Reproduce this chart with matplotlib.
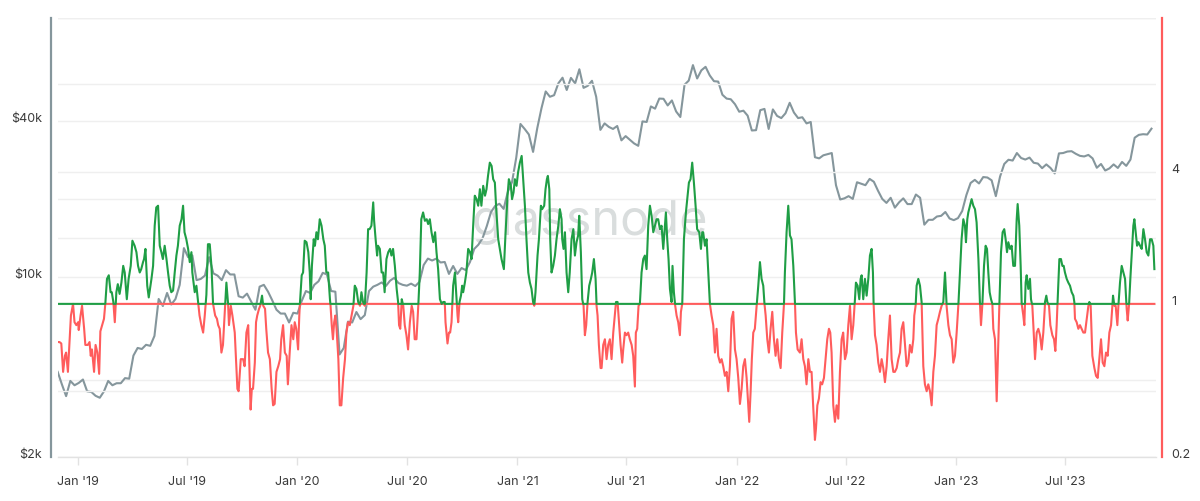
import numpy as np
import pandas as pd
import matplotlib
matplotlib.use("Agg")
import matplotlib.pyplot as plt
import matplotlib.dates as mdates
from matplotlib.ticker import FixedLocator, NullFormatter

plt.rcParams['font.family'] = ['Inter', 'DejaVu Sans']

# ---------------- data ----------------
start_date = "2018-11-28"

# weekly BTC price (USD), left log axis
price_2018 = [4280, 3830, 3450, 3950, 3800]
price_2019 = [3880, 4000, 3600, 3580, 3460, 3400, 3600, 3950, 3800, 3870, 3870, 4050, 4030,
              4950, 5300, 5250, 5450, 5400, 5900, 8200, 7700, 8650, 7800, 8200, 9300, 12900,
              11900, 12100, 9700, 9800, 10100, 11900, 10300, 10100, 9700, 10600, 10200, 10200,
              8400, 8300, 8600, 8000, 7450, 9150, 9300, 8750, 8100, 7450, 7200, 7200, 6650, 7250]
price_2020 = [7200, 8050, 8800, 8650, 9300, 9600, 10350, 10200, 8800, 8750, 5000, 5300, 6700,
              6650, 7300, 6850, 7100, 8800, 9150, 9300, 9500, 9200, 9650, 9900, 9450, 9300,
              9230, 9400, 9200, 9550, 11100, 11750, 11550, 11750, 11350, 11400, 10250, 11000,
              10250, 10800, 10600, 11400, 12800, 13300, 14100, 15700, 17800, 18800, 19150,
              18300, 21300, 23250, 28900]
price_2021 = [39000, 37300, 35500, 30400, 37600, 44900, 52100, 49700, 50400, 56000, 58900,
              52800, 58800, 56000, 63500, 53800, 54800, 57300, 49700, 37000, 39200, 38000,
              37300, 38300, 33700, 35000, 33900, 32800, 32100, 39900, 39700, 45600, 44700,
              48900, 48800, 46000, 48100, 43600, 41500, 55300, 57400, 65900, 58500, 62900,
              64900, 60100, 57100, 56900, 50600, 48900, 48600, 46500]
price_2022 = [43500, 43900, 42000, 36800, 36900, 44100, 44600, 37300, 44400, 41900, 41100,
              42900, 47100, 43200, 41100, 41400, 39200, 39700, 29000, 28700, 29500, 29800,
              30100, 22600, 19900, 20100, 20500, 20000, 23200, 22900, 22600, 23900, 23300,
              21500, 20000, 19300, 20200, 18500, 19400, 20100, 19100, 19100, 20800, 20200,
              15900, 16600, 16600, 17100, 17200, 17800, 16800, 16550]
price_2023 = [16850, 17950, 20700, 23050, 23700, 22950, 24300, 24200, 23600, 20500, 24400,
              27300, 28350, 28150, 30100, 28800, 28400, 28900, 27600, 27400, 26300, 27200,
              26350, 25100, 30000, 30100, 30500, 30600, 29900, 29350, 29200, 29600, 28700,
              26400, 27300, 25750, 26250, 27200, 26350, 27800, 26850, 28400, 34500, 35400,
              35600, 35500, 37400]

# oscillator (right log axis): day offset from start_date, value
osc_day = [0, 3, 6, 9, 12, 14, 17, 20, 22, 25.5, 28, 31, 34, 35, 38, 40.5, 44, 46, 50, 53, 55, 57,
           60.5, 63, 66, 69, 71, 74, 77, 79, 82, 85, 88, 90, 92.6, 95, 97.6, 100, 103, 106, 109,
           111.5, 115, 118, 121.5, 124.3, 128, 131, 133.7, 136.5, 139, 142, 143.7, 146, 149,
           151.5, 156, 158.7, 161.4, 164, 167, 169.8, 172.5, 175, 178, 181, 183.6, 186.4, 189,
           192, 194.7, 197.5, 200, 203, 206, 208.6, 211, 214, 217, 219.7, 222.5, 224, 228,
           230.8, 233.6, 236, 239, 242, 244.7, 247.4, 250, 253, 255.8, 258.5, 260, 262, 265,
           267, 269.6, 272.4, 275, 278, 280.7, 283.5, 285, 288, 290.7, 294.6, 299, 301, 304.6,
           308.5,
           311, 314, 317, 318.4, 321, 323, 325, 328, 330, 332, 335, 337, 340, 342, 345, 347, 350,
           353, 356, 358.4, 361, 364, 367, 370, 372, 375, 378, 381, 383, 386, 389, 392, 394.4,
           397, 400, 402, 403, 406, 408.3, 411, 414, 417, 419.4, 421, 423, 426, 428, 430.5, 433,
           436, 439, 442, 444.4, 447, 450, 453, 454, 456, 458, 460, 462, 464, 467, 469.3, 472,
           475, 478, 480.4, 483, 486, 489, 492, 494.3, 497, 500, 503, 505.4, 508, 511, 514,
           516.5, 519, 522, 525, 526.5, 529, 531.5, 533, 536, 539, 541.5, 544, 547, 550, 553,
           555.3, 558, 561, 564, 566.4, 568, 570, 572.5, 575, 577.5, 580.3, 583, 586, 589,
           591.4, 594, 597, 600, 602.5, 605, 608, 611, 614, 616.4,
           619.2, 622, 625, 628, 630.3, 633, 636, 639, 641.4, 644, 645.3, 648.6, 651, 653,
           655.3, 658, 661, 663, 665.3, 666.4, 668.6, 671, 673, 674.7, 677.5, 680, 683, 686,
           688.6, 691.3, 694, 697, 699.7, 702.5, 705, 708, 711, 713.5, 716, 719, 722, 724.6,
           727.4, 730, 733, 735.7, 738.5, 742.4, 745, 748.5, 750.7, 754, 756, 758.5, 760.7,
           763.5, 766, 769, 772, 774.6, 777.4, 780, 783, 785.7, 788.4, 791, 793, 795, 798.4,
           800.7, 804, 806, 809.5, 811.7, 814, 815.6, 818, 819.5, 821.7, 824.5, 827.3, 830, 833,
           835.6, 838.4, 839.5, 841.7, 844, 846.7, 849.5, 852, 855, 858, 860.6, 863.3, 866,
           867.8, 870.5, 872.8, 875, 877.2, 879.4, 881.7, 884.4, 887.2, 889.4, 892.2, 895,
           896.6, 898.3, 900.5, 903.3, 905, 907.7, 910.5, 913.3, 916, 918.8, 921.6, 924.4,
           929, 931.6, 934.3, 936.6, 939.3, 941, 943.8, 946.5, 949.3, 952, 955, 957.6, 960.4,
           962, 964.3, 966.5, 968.7, 971.5, 974.3, 977, 979.8, 982.6, 985.4, 988.2, 991, 993.7,
           996.5, 999.2, 1002, 1004.8, 1007.6, 1010.3, 1012, 1014.2, 1016.4, 1018.7, 1021.4,
           1023, 1025.3, 1027.5, 1029.8, 1032.5, 1035.3, 1037, 1039.2, 1042, 1045.3, 1047.5,
           1050.3, 1053, 1055.8, 1058.6, 1061.4, 1064, 1067.5, 1070.3, 1072.5, 1074, 1077,
           1079.7, 1082.5, 1085.2, 1088, 1090.8, 1093.6, 1096.3, 1099, 1102, 1104.7, 1107.4,
           1110.2, 1113, 1115.8, 1118.5, 1121.3, 1124, 1126.9, 1129.6, 1132.4, 1135.2, 1138,
           1140.7, 1143.5, 1146.3, 1149, 1150.7, 1153, 1155, 1157.4, 1160, 1163, 1165.7, 1168.5,
           1171.2, 1174, 1175.7, 1178, 1180.7, 1183.4, 1186.2, 1189, 1191.8, 1194.5, 1197.3,
           1200, 1202.9, 1205.6, 1208.4, 1210, 1212.8, 1215.6, 1218.4, 1221, 1224, 1226.7,
           1228.4, 1231.2,
           1235, 1237.8, 1240.6, 1243.3, 1246, 1249, 1251.7, 1254.4, 1257, 1260, 1261.7, 1264,
           1266.6, 1269.4, 1272, 1275, 1277.7, 1280.5, 1283.3, 1285.5, 1287.7, 1290.5, 1293.3,
           1296, 1298.8, 1301.6, 1304.4, 1307, 1310, 1312.7, 1315.5, 1318.3, 1321, 1323.8,
           1326.6, 1328.2, 1331, 1333.8, 1336, 1337.7, 1340.4, 1343.2, 1346, 1348.8, 1351.5,
           1354.3, 1356.5, 1357.6, 1359.9, 1362.6, 1365.4, 1368.2, 1371, 1373.7, 1376.5, 1379.3,
           1382, 1384.8, 1387.6, 1390.4, 1393, 1396, 1398.7, 1401.5, 1404.2, 1407, 1409.8,
           1412.6, 1415.3, 1418, 1421, 1423.7, 1425.3, 1427.5, 1429.2, 1432, 1434.8, 1437.5,
           1440.3, 1443, 1445.9, 1448.6, 1451.4, 1454.2, 1457, 1459.7, 1462.5, 1465.3, 1468,
           1470.8, 1473.6, 1476.4, 1479, 1482, 1484.7, 1487.5, 1490.2, 1493, 1495.8, 1498.6,
           1501.3, 1504, 1506.9, 1509.6, 1511.3, 1513.5, 1515.2, 1518, 1520.7, 1523.5, 1526.3,
           1529, 1532, 1534.6, 1536.3, 1538.5, 1541.3, 1544, 1546.3, 1548.5, 1550.7, 1553,
           1555.2, 1556.8, 1559.6, 1562.4, 1565.1, 1566.8, 1569.6, 1572.3, 1575, 1577.3, 1579.6,
           1581.8, 1584.6, 1587.3, 1590, 1592.9, 1595.7, 1597.3, 1600, 1602.3, 1604, 1606.7,
           1608.4, 1610.6, 1612.3, 1615, 1617.8, 1619.5, 1621.7, 1623.4, 1626.2, 1629, 1631.7,
           1634.5, 1637.3, 1640, 1642.8, 1645, 1646.7, 1649.5, 1651.7, 1655, 1657.8, 1660,
           1662.2, 1665, 1666.7, 1669.4, 1671.7, 1673.9, 1676, 1678.9, 1681.6, 1684.4, 1687.2,
           1690, 1691.6, 1692.7, 1695.5, 1698.3, 1701, 1703.8, 1706.6, 1709.4, 1712.2, 1715,
           1716.6, 1718.8, 1721.6, 1725, 1727.7, 1730.5, 1733.2, 1736, 1738.8, 1741.6, 1744.3,
           1747.1, 1749.9, 1752.7, 1754.9, 1756, 1758.2, 1760.4, 1763.2, 1764.9, 1767.6, 1770.4,
           1773.2, 1776, 1778.7, 1780.4, 1782.6, 1784.8, 1787, 1789.8, 1791.5, 1793.7, 1796,
           1798.2, 1801, 1803.7, 1806.5, 1809.2, 1812, 1814.8, 1817.6, 1820.3, 1823.1, 1824.8]
osc_val = [0.67, 0.67, 0.66, 0.49, 0.58, 0.60, 0.49, 0.69, 0.885, 1.0, 0.825, 0.80, 0.825, 0.76,
           0.885, 0.98, 0.77, 0.65, 0.65, 0.67, 0.58, 0.62, 0.49, 0.65, 0.60, 0.48, 0.75, 0.80,
           0.855, 0.98, 1.30, 1.35, 1.13, 1.13, 1.02, 0.825, 1.13, 1.23, 1.11, 1.25, 1.49, 1.39,
           1.05, 1.30, 1.49, 1.94, 1.84, 1.72, 1.49, 1.39, 1.44, 1.55, 1.60, 1.78, 1.21, 1.07,
           1.30, 1.49, 2.27, 2.75, 2.80, 1.84, 1.72, 1.60, 1.84, 1.60, 1.39, 1.21, 1.13, 1.15,
           1.39, 1.66, 1.84, 2.27, 2.43, 2.80, 2.12, 1.97, 1.78, 1.55, 1.72, 1.39, 1.13, 1.21,
           1.02, 0.885, 0.80, 0.74, 0.885, 1.10, 1.87, 1.87, 1.49, 1.0, 0.95, 0.885, 0.855, 0.80,
           0.77, 0.60, 0.65, 0.92, 1.25, 1.0, 0.80, 0.98, 0.885, 0.74, 0.41, 0.40, 0.56, 0.56,
           0.52, 0.74, 0.80, 0.58, 0.33, 0.41, 0.41, 0.54, 0.825, 0.885, 0.95, 0.98, 1.09, 0.98,
           0.95, 0.77, 0.60, 0.56, 0.41, 0.345, 0.35, 0.49, 0.52, 0.56, 0.69, 0.80, 0.60, 0.58,
           0.43, 0.60, 0.80, 0.69, 0.825, 0.77, 0.62, 0.885, 1.0, 1.35, 1.39, 1.94, 1.91, 1.72,
           1.39, 1.05, 1.49, 1.97, 1.84, 2.12, 1.97, 2.43, 2.27, 1.97, 1.84, 1.39, 1.39, 1.05,
           0.98, 0.80, 0.69, 0.825, 0.885, 0.77, 0.56, 0.345, 0.345, 0.46, 0.56, 0.74, 0.825,
           0.80, 0.885, 0.98, 1.21, 1.17, 1.02, 0.98, 1.13, 1.02, 0.98, 1.39, 2.19, 2.19, 2.27,
           2.90, 2.39, 1.97, 1.66, 1.84, 1.78, 1.39, 1.39, 1.13, 1.60, 1.72, 1.78, 1.66, 1.78,
           1.49, 1.17, 1.02, 0.80, 0.77, 1.05, 0.98, 0.80, 0.72, 0.62, 0.825, 0.98, 0.92, 0.69,
           0.69, 0.98, 1.39, 2.43, 2.61, 2.39, 2.43, 2.31,
           2.43, 2.12, 1.91, 2.12, 1.72, 1.44, 1.05, 1.0, 1.02, 1.02, 0.825, 0.66, 0.74, 0.74,
           0.825, 1.21, 1.39, 1.13, 0.885, 0.825, 1.02, 1.09, 1.21, 1.13, 1.25, 1.39, 1.78, 1.72,
           1.60, 2.27, 3.11, 3.0, 2.80, 3.33, 2.80, 3.45, 3.11, 3.33, 3.83, 4.40, 4.25, 3.70,
           3.57, 2.61, 1.97, 1.78, 1.60, 1.44, 2.05, 3.11, 3.70, 3.45, 3.0, 3.22, 3.70, 3.45,
           3.97, 4.40, 4.72, 3.70, 2.80, 1.97, 1.39, 1.25, 1.17, 1.02, 0.98, 1.13, 1.66, 1.97,
           2.80, 2.70, 2.80, 3.33, 3.70, 3.83, 3.33, 1.97, 1.39, 1.49, 1.66, 1.97, 2.27, 2.70,
           2.43, 1.97, 1.78, 2.12, 1.39, 1.13, 1.39, 1.97, 2.19, 1.66, 1.91, 2.05, 2.52, 1.72,
           1.05, 0.98, 0.72, 0.80, 1.02, 1.21, 1.30, 1.39, 1.60, 1.30, 0.98, 0.885, 0.65, 0.51,
           0.51, 0.65, 0.69, 0.56, 0.65, 0.69, 0.56, 0.74,
           1.02, 1.02, 0.80, 0.65, 0.54, 0.62, 0.74, 0.72, 0.74, 0.69, 0.65, 0.58, 0.42, 0.74,
           0.77, 0.98, 1.0, 1.39, 1.60, 1.66, 1.44, 2.27, 2.80, 2.52, 2.12, 2.27, 2.43, 2.43,
           2.19, 2.27, 1.78, 2.27, 2.61, 1.97, 1.60, 1.17, 1.02, 1.49, 1.13, 0.98, 0.885, 0.825,
           0.72, 0.92, 1.0, 1.97, 2.61, 3.0, 3.57, 3.70, 4.40, 3.57, 2.80, 2.19, 2.12, 1.78,
           2.12, 2.12, 1.84, 1.97, 1.39, 1.0, 0.885, 0.80, 0.60, 0.77, 0.58, 0.54, 0.56, 0.52,
           0.47, 0.49, 0.40, 0.52, 0.855, 0.92, 0.62, 0.56, 0.46, 0.35, 0.41, 0.52, 0.56, 0.46,
           0.345, 0.29, 0.40, 0.56, 0.74, 0.77, 0.98, 1.21, 1.55, 1.30, 1.21, 1.02, 0.885, 0.69,
           0.60, 0.77, 0.92, 0.69, 0.58, 0.69, 0.56, 0.51, 0.74, 0.98, 1.39, 2.12, 2.80, 2.05,
           1.97, 1.49, 1.02, 0.74, 0.62,
           0.60, 0.69, 0.56, 0.52, 0.43, 0.56, 0.49, 0.49, 0.345, 0.24, 0.27, 0.345, 0.37, 0.44,
           0.43, 0.46, 0.56, 0.69, 0.77, 0.74, 0.60, 0.345, 0.29, 0.345, 0.30, 0.49, 0.69, 0.74,
           0.56, 0.60, 0.80, 0.98, 0.69, 0.80, 1.05, 1.25, 1.21, 1.05, 1.30, 1.35, 1.05, 1.30,
           1.09, 1.30, 1.66, 1.78, 1.39, 1.0, 0.72, 0.65, 0.54, 0.49, 0.56, 0.51, 0.44, 0.52,
           0.69, 0.885, 0.56, 0.49, 0.49, 0.51, 0.56, 0.60, 0.77, 0.825, 0.65, 0.52, 0.54, 0.65,
           0.60, 0.69, 0.885, 0.98, 1.21, 1.30, 1.21, 1.02, 0.52, 0.43, 0.40, 0.43, 0.40, 0.345,
           0.49, 0.58, 0.80, 0.855, 0.92, 0.98, 1.02, 1.39, 0.98, 0.80, 0.72, 0.69, 0.54, 0.58,
           0.74, 0.98, 1.39, 1.97, 2.43, 2.27, 1.91, 2.43, 2.61, 2.80, 3.0, 2.80, 2.70, 2.35,
           1.60, 1.0, 0.80, 0.98, 1.49, 1.84, 1.78, 1.39, 1.13, 1.05, 1.0, 0.77, 0.69, 0.36,
           0.65, 0.98, 1.72, 2.12, 2.19, 1.97, 1.72, 1.91, 1.78, 1.84, 1.49, 1.49, 2.43, 2.85,
           2.27, 1.49, 1.0, 0.885, 0.80, 1.25, 1.35, 1.17, 1.30, 1.05, 0.98, 0.80, 0.56, 0.74,
           0.77, 0.72, 0.62, 0.74, 1.02, 1.09, 1.02, 0.98, 0.80, 0.72, 0.69, 0.61, 0.80, 1.25,
           1.60, 1.60, 1.49, 1.49, 1.39, 1.30, 1.25, 1.21, 1.13, 1.09, 1.02, 0.855, 0.825, 0.77,
           0.80, 0.77, 0.74, 0.74, 0.855, 0.98, 1.02, 0.98, 0.58, 0.51, 0.47, 0.46, 0.56, 0.69,
           0.54, 0.52, 0.60, 0.58, 0.74, 0.80, 0.98, 1.09, 0.98, 0.98, 0.80, 0.98, 1.25, 1.49,
           1.39, 1.30, 0.95, 0.84, 0.98, 1.30, 1.66, 2.27, 2.43, 2.12, 1.84, 1.91, 1.84, 1.78,
           2.19, 1.97, 1.72, 1.66, 1.97, 1.97, 1.84, 1.44]

left_ticks = [2000, 10000, 40000]
left_tick_labels = ["$2k", "$10k", "$40k"]
left_minor = [4000, 20000, 100000]
right_ticks = [0.2, 1, 4]
right_tick_labels = ["0.2", "1", "4"]
right_minor = [0.4, 2, 10, 20]

# ---------------- build ----------------
price = price_2018 + price_2019 + price_2020 + price_2021 + price_2022 + price_2023
t0 = pd.Timestamp(start_date)
price_dates = pd.date_range(t0, periods=len(price), freq="7D")

n = min(len(osc_day), len(osc_val))
d = np.array(osc_day[:n], dtype=float)
v = np.array(osc_val[:n], dtype=float)

# insert exact crossings of 1 so green/red split cleanly
xs, vs = [d[0]], [v[0]]
for i in range(1, n):
    a, b = v[i - 1], v[i]
    if (a - 1) * (b - 1) < 0:
        la, lb = np.log(a), np.log(b)
        t = -la / (lb - la)
        xs.append(d[i - 1] + t * (d[i] - d[i - 1]))
        vs.append(1.0)
    xs.append(d[i])
    vs.append(b)
xs = np.array(xs)
vs = np.array(vs)
osc_dates = t0 + pd.to_timedelta(xs, unit="D")
green = np.maximum(vs, 1.0)
red = np.minimum(vs, 1.0)

GRAY = "#85969c"
GREEN = "#1f9e45"
RED = "#ff5c5c"
TXT = "#3a3a3a"
GRID = "#efefef"

fig = plt.figure(figsize=(12, 5.02), dpi=100)
fig.patch.set_facecolor("white")
ax = fig.add_axes([57.7 / 1200, 1 - 458.3 / 502, (1155.7 - 57.7) / 1200, (458.3 - 19.3) / 502])
ax2 = ax.twinx()

# watermark
ax.text(0.485, 0.538, "glassnode", transform=ax.transAxes, ha="center", va="center",
        fontsize=35, color="#d9dddd", fontweight="normal", zorder=0)

ax.plot(price_dates, price, color=GRAY, lw=1.5, zorder=3, solid_joinstyle="round")
ax2.plot(osc_dates, red, color=RED, lw=1.5, zorder=3, solid_joinstyle="round")
ax2.plot(osc_dates, green, color=GREEN, lw=1.5, zorder=4, solid_joinstyle="round")

ax.set_yscale("log")
ax2.set_yscale("log")
ax.set_ylim(2000, 100000)
ax2.set_ylim(0.2, 20)
ax.set_xlim(t0, t0 + pd.Timedelta(days=1827))

ax.yaxis.set_major_locator(FixedLocator(left_ticks))
ax.yaxis.set_minor_locator(FixedLocator(left_minor))
ax.set_yticklabels(left_tick_labels)
ax.yaxis.set_minor_formatter(NullFormatter())
ax2.yaxis.set_major_locator(FixedLocator(right_ticks))
ax2.yaxis.set_minor_locator(FixedLocator(right_minor))
ax2.set_yticklabels(right_tick_labels)
ax2.yaxis.set_minor_formatter(NullFormatter())

ax.grid(True, axis="y", which="both", color=GRID, lw=1.0, zorder=0)
ax2.grid(True, axis="y", which="both", color=GRID, lw=1.0, zorder=0)
ax.set_axisbelow(True)
ax2.set_axisbelow(True)

ax.xaxis.set_major_locator(mdates.MonthLocator(bymonth=[1, 7]))
ax.xaxis.set_major_formatter(mdates.DateFormatter("%b '%y"))

for s in ["top", "right"]:
    ax.spines[s].set_visible(False)
for s in ["top", "left", "bottom"]:
    ax2.spines[s].set_visible(False)
ax.spines["left"].set_position(("outward", 4.8))
ax.spines["left"].set_color(GRAY)
ax.spines["left"].set_linewidth(1.6)
ax.spines["bottom"].set_color("#e2e2e2")
ax.spines["bottom"].set_linewidth(1.0)
ax2.spines["right"].set_position(("outward", 4.3))
ax2.spines["right"].set_color(RED)
ax2.spines["right"].set_linewidth(1.6)

ax.tick_params(axis="x", which="major", length=6, width=1, color="#e2e2e2",
               labelsize=9, labelcolor=TXT, pad=7)
ax.tick_params(axis="y", which="both", length=0, labelsize=9, labelcolor=TXT, pad=6.5)
ax2.tick_params(axis="y", which="both", length=0, labelsize=9, labelcolor=TXT, pad=7.2)
for lab in ax.get_yticklabels() + ax2.get_yticklabels():
    lab.set_verticalalignment("baseline")

fig.savefig("out.png", dpi=100, facecolor="white")
